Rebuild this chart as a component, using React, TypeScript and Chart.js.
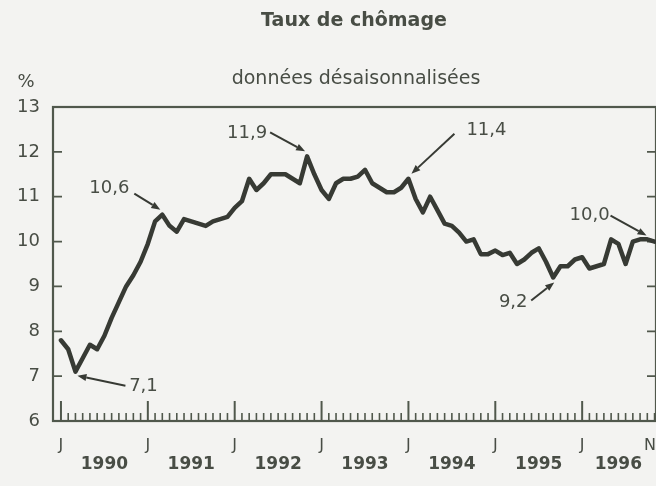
import React, { useEffect, useRef } from 'react';
import { Chart, registerables } from 'chart.js';

Chart.register(...registerables);

// ---------- data ----------
const chartTitle = 'Taux de chômage';
const chartSubtitle = 'données désaisonnalisées';
const unitLabel = '%';
const years = ['1990', '1991', '1992', '1993', '1994', '1995', '1996'];
const monthTickLabels = ['J', 'J', 'J', 'J', 'J', 'J', 'J', 'N'];
const monthTickIndex = [0, 12, 24, 36, 48, 60, 72, 82];
const yTicks = [6, 7, 8, 9, 10, 11, 12, 13];
// monthly unemployment rate, Jan 1990 .. Nov 1996
const rate = [
  7.8, 7.6, 7.1, 7.4, 7.7, 7.6, 7.9, 8.3, 8.65, 9.0, 9.25, 9.55,
  9.95, 10.45, 10.6, 10.35, 10.22, 10.5, 10.45, 10.4, 10.35, 10.45, 10.5, 10.55,
  10.75, 10.9, 11.4, 11.15, 11.3, 11.5, 11.5, 11.5, 11.4, 11.3, 11.9, 11.5,
  11.15, 10.95, 11.3, 11.4, 11.4, 11.45, 11.6, 11.3, 11.2, 11.1, 11.1, 11.2,
  11.4, 10.95, 10.65, 11.0, 10.7, 10.4, 10.35, 10.2, 10.0, 10.05, 9.72, 9.72,
  9.8, 9.7, 9.75, 9.5, 9.6, 9.75, 9.85, 9.55, 9.2, 9.45, 9.45, 9.6,
  9.65, 9.4, 9.45, 9.5, 10.05, 9.95, 9.5, 10.0, 10.05, 10.05, 10.0,
];
const annotIndex = [2, 14, 34, 48, 68, 82];
const annotText = ['7,1', '10,6', '11,9', '11,4', '9,2', '10,0'];

// ---------- styling ----------
const FONT = "'DejaVu Sans', 'Liberation Sans', Arial, sans-serif";
const BG = '#f3f3f1';
const TEXT = '#484d45';
const INK = '#373a34';
const FRAME = '#50584c';

// label / arrow placement relative to the annotated point (pixels)
const annotLayout = [
  { tx: 68, ty: 15, sx: 50, sy: 14, ex: 2, ey: 4 },
  { tx: -53, ty: -26, sx: -28, sy: -21, ex: -2, ey: -5 },
  { tx: -60, ty: -23, sx: -37, sy: -24, ex: -2, ey: -5 },
  { tx: 78, ty: -48, sx: 46, sy: -45, ex: 3, ey: -5 },
  { tx: -40, ty: 25, sx: -22, sy: 23, ex: 1, ey: 5 },
  { tx: -65, ty: -26, sx: -44, sy: -26, ex: -8, ey: -6 },
];

function drawArrow(ctx: CanvasRenderingContext2D, x1: number, y1: number, x2: number, y2: number) {
  const ang = Math.atan2(y2 - y1, x2 - x1);
  const head = 9;
  const bx = x2 - head * Math.cos(ang);
  const by = y2 - head * Math.sin(ang);
  ctx.beginPath();
  ctx.moveTo(x1, y1);
  ctx.lineTo(bx, by);
  ctx.stroke();
  ctx.beginPath();
  ctx.moveTo(x2, y2);
  ctx.lineTo(bx + 3.5 * Math.sin(ang), by - 3.5 * Math.cos(ang));
  ctx.lineTo(bx - 3.5 * Math.sin(ang), by + 3.5 * Math.cos(ang));
  ctx.closePath();
  ctx.fill();
}

const decorPlugin = {
  id: 'decor',
  beforeDraw(chart: any) {
    const { ctx, width, height } = chart;
    ctx.save();
    ctx.fillStyle = BG;
    ctx.fillRect(0, 0, width, height);
    ctx.restore();
  },
  beforeDatasetsDraw(chart: any) {
    const { ctx, chartArea: a, scales } = chart;
    const x = scales.x;
    const y = scales.y;
    ctx.save();
    ctx.strokeStyle = FRAME;
    ctx.lineCap = 'butt';
    // inner y ticks (left and right)
    ctx.lineWidth = 1.8;
    yTicks.forEach((v) => {
      if (v === 6 || v === 13) return;
      const py = y.getPixelForValue(v);
      ctx.beginPath();
      ctx.moveTo(a.left, py);
      ctx.lineTo(a.left + 9, py);
      ctx.moveTo(a.right, py);
      ctx.lineTo(a.right - 9, py);
      ctx.stroke();
    });
    // month ticks along the bottom
    rate.forEach((_, i) => {
      const px = x.getPixelForValue(i);
      const major = i % 12 === 0;
      ctx.lineWidth = major ? 2 : 1.6;
      ctx.beginPath();
      ctx.moveTo(px, a.bottom);
      ctx.lineTo(px, a.bottom - (major ? 20 : 8));
      ctx.stroke();
    });
    // frame
    ctx.lineWidth = 2.2;
    ctx.strokeRect(a.left, a.top, a.right - a.left, a.bottom - a.top);
    ctx.restore();
  },
  afterDraw(chart: any) {
    const { ctx, chartArea: a, scales, width } = chart;
    const x = scales.x;
    const y = scales.y;
    ctx.save();
    ctx.fillStyle = TEXT;
    ctx.textBaseline = 'middle';
    ctx.textAlign = 'center';
    // titles
    ctx.font = `bold 19px ${FONT}`;
    ctx.fillText(chartTitle, 354, 21);
    ctx.font = `19px ${FONT}`;
    ctx.fillText(chartSubtitle, 356, 79);
    ctx.font = `18px ${FONT}`;
    ctx.fillText(unitLabel, 26, 82);
    // month letters
    ctx.font = `16px ${FONT}`;
    monthTickLabels.forEach((lab, k) => {
      const px = Math.min(x.getPixelForValue(monthTickIndex[k]), width - 6);
      ctx.fillText(lab, px, a.bottom + 25);
    });
    // years, centred between consecutive January ticks
    ctx.font = `bold 17px ${FONT}`;
    const lastIdx = rate.length - 1;
    years.forEach((yr, k) => {
      const first = k * 12;
      const next = Math.min(first + 12, lastIdx);
      const mid = (x.getPixelForValue(first) + x.getPixelForValue(next)) / 2;
      ctx.fillText(yr, mid, a.bottom + 44);
    });
    // annotations
    ctx.font = `18px ${FONT}`;
    ctx.strokeStyle = INK;
    ctx.lineWidth = 2;
    annotIndex.forEach((idx, k) => {
      const px = x.getPixelForValue(idx);
      const py = y.getPixelForValue(rate[idx]);
      const L = annotLayout[k];
      ctx.fillStyle = TEXT;
      ctx.fillText(annotText[k], px + L.tx, py + L.ty);
      ctx.fillStyle = INK;
      drawArrow(ctx, px + L.sx, py + L.sy, px + L.ex, py + L.ey);
    });
    ctx.restore();
  },
};

export default function App() {
  const ref = useRef<HTMLCanvasElement | null>(null);
  useEffect(() => {
    if (!ref.current) return;
    const chart = new Chart(ref.current, {
      type: 'line',
      data: {
        datasets: [
          {
            data: rate.map((v, i) => ({ x: i, y: v })),
            borderColor: INK,
            borderWidth: 4.5,
            pointRadius: 0,
            tension: 0,
            borderJoinStyle: 'round',
            borderCapStyle: 'round',
          },
        ],
      },
      options: {
        responsive: false,
        animation: false,
        events: [],
        layout: { padding: { top: 107, right: 0, bottom: 65, left: 0 } },
        plugins: { legend: { display: false }, tooltip: { enabled: false }, title: { display: false } },
        scales: {
          x: { type: 'linear', min: -1.1, max: 82.2, display: false },
          y: {
            type: 'linear',
            min: 6,
            max: 13,
            position: 'left',
            afterFit: (s: any) => {
              s.width = 53;
            },
            grid: { display: false, drawTicks: false },
            border: { display: false },
            ticks: {
              stepSize: 1,
              padding: 13,
              color: TEXT,
              font: { family: FONT, size: 18 },
            },
          },
        },
      },
      plugins: [decorPlugin],
    } as any);
    return () => chart.destroy();
  }, []);
  return (
    <div style={{ position: 'fixed', left: 0, top: 0, width: 656, height: 486 }}>
      <canvas ref={ref} width={656} height={486} style={{ width: 656, height: 486, display: 'block' }} />
    </div>
  );
}
